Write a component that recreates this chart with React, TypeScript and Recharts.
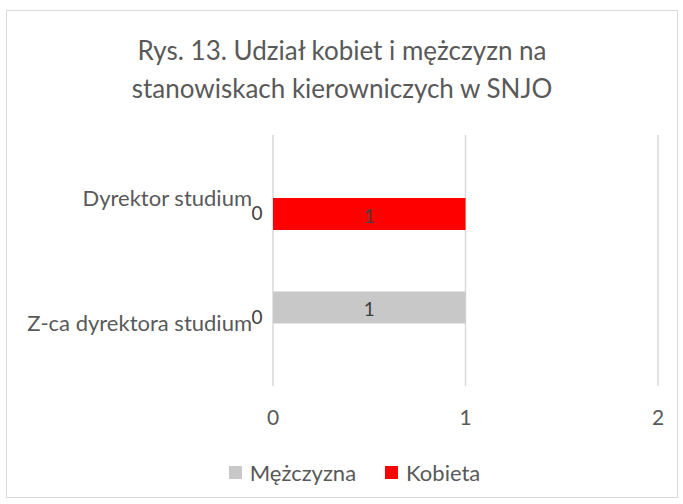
import { BarChart, Bar, XAxis, YAxis, CartesianGrid, Legend } from "recharts";

const categories = ["Dyrektor studium", "Z-ca dyrektora studium"];
const mezczyzna = [0, 1];
const kobieta = [1, 0];
const xTicks = [0, 1, 2];

const seriesList = [
  { key: "mezczyzna", name: "Mężczyzna", color: "#c8c8c8" },
  { key: "kobieta", name: "Kobieta", color: "#ff0000" },
];

const data = categories.map((name, i) => ({
  name,
  mezczyzna: mezczyzna[i],
  kobieta: kobieta[i],
}));

const FONT = "Lato, Calibri, 'Open Sans', sans-serif";

// bar shape that also writes the data label, including the "0" ones Excel puts by the axis
function makeShape(key: string, color: string, isFirst: boolean) {
  return (props: any) => {
    const { x, y, width, height, payload } = props;
    const value = payload[key];
    if (value === 0) {
      const ly = isFirst ? y + height + 14 : y - 7;
      return (
        <text x={x - 16} y={ly} textAnchor="middle" dominantBaseline="central" fontSize={19} fill="#404040" fontFamily={FONT}>
          0
        </text>
      );
    }
    return (
      <g>
        <rect x={x} y={y} width={width} height={height} fill={color} />
        <text x={x + width / 2} y={y + height / 2 + 1} textAnchor="middle" dominantBaseline="central" fontSize={19} fill="#404040" fontFamily={FONT}>
          {value}
        </text>
      </g>
    );
  };
}

function LegendContent() {
  return (
    <div
      style={{
        display: "flex",
        justifyContent: "center",
        alignItems: "center",
        gap: 29,
        paddingLeft: 44,
        paddingTop: 7,
        fontFamily: FONT,
      }}
    >
      {seriesList.map((s) => (
        <div key={s.key} style={{ display: "flex", alignItems: "center", gap: 8 }}>
          <span style={{ width: 13, height: 13, background: s.color, display: "inline-block" }} />
          <span style={{ color: "#595959", fontSize: 22 }}>{s.name}</span>
        </div>
      ))}
    </div>
  );
}

export default function App() {
  return (
    <div
      style={{
        position: "absolute",
        left: 6,
        top: 10,
        width: 670,
        height: 486,
        border: "1px solid #d9d9d9",
        background: "#fff",
        fontFamily: FONT,
      }}
    >
      <div
        style={{
          position: "absolute",
          top: 20,
          left: 0,
          width: 670,
          textAlign: "center",
          fontSize: 26,
          lineHeight: "38px",
          color: "#595959",
        }}
      >
        Rys. 13. Udział kobiet i mężczyzn na
        <br />
        stanowiskach kierowniczych w SNJO
      </div>
      <BarChart
        width={670}
        height={486}
        layout="vertical"
        data={data}
        barGap={0}
        margin={{ top: 124, right: 19, bottom: 9, left: 0 }}
      >
        <CartesianGrid horizontal={false} stroke="#d9d9d9" strokeWidth={1.5} />
        <XAxis
          type="number"
          domain={[0, 2]}
          ticks={xTicks}
          axisLine={false}
          tickLine={false}
          height={66}
          tickMargin={18}
          tick={{ fontSize: 21, fill: "#595959", fontFamily: FONT }}
        />
        <YAxis
          type="category"
          dataKey="name"
          width={266}
          axisLine={false}
          tickLine={false}
          tickMargin={15}
          tick={{ fontSize: 22, fill: "#595959", fontFamily: FONT }}
        />
        <Legend verticalAlign="bottom" height={36} content={LegendContent} />
        {seriesList.map((s, i) => (
          <Bar
            key={s.key}
            dataKey={s.key}
            name={s.name}
            fill={s.color}
            barSize={32}
            isAnimationActive={false}
            shape={makeShape(s.key, s.color, i === 0)}
          />
        ))}
      </BarChart>
    </div>
  );
}
